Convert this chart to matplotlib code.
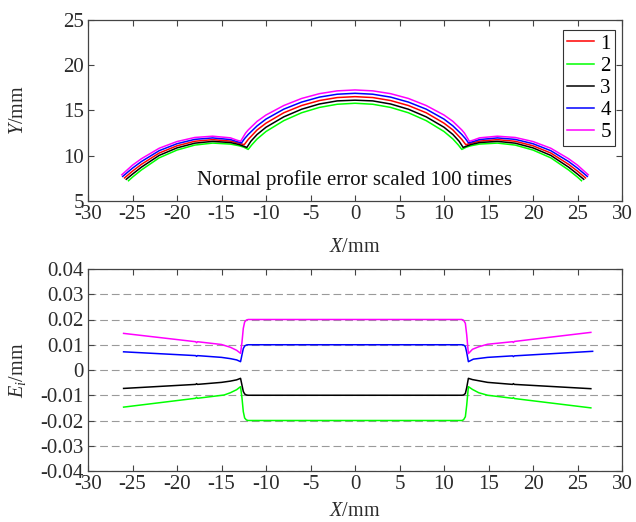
import matplotlib
matplotlib.use('Agg')
import matplotlib.pyplot as plt

plt.rcParams['font.family'] = ['Liberation Serif', 'DejaVu Serif']
plt.rcParams['mathtext.fontset'] = 'custom'
plt.rcParams['mathtext.rm'] = 'Liberation Serif'
plt.rcParams['mathtext.it'] = 'Liberation Serif:italic'
plt.rcParams['axes.unicode_minus'] = False

# ---- profile curves (error scaled) ----
x1 = [-25.9, -25, -24, -22, -20, -18, -16, -14, -13, -12.45, -12, -11, -10, -8, -6, -4, -2, 0,
      2, 4, 6, 8, 10, 11, 12, 12.45, 13, 14, 16, 18, 20, 22, 24, 25, 25.9]
y1 = [7.55, 8.3, 9.05, 10.3, 11.1, 11.6, 11.78, 11.62, 11.38, 11.22, 11.8, 12.85, 13.6, 14.75, 15.55, 16.1, 16.43, 16.53,
      16.43, 16.1, 15.55, 14.75, 13.6, 12.85, 11.8, 11.22, 11.38, 11.62, 11.78, 11.6, 11.1, 10.3, 9.05, 8.3, 7.55]

x2 = [-25.45, -25, -24, -22, -20, -18, -16, -14, -13, -12.5, -12.0, -11.6, -11, -10, -8, -6, -4, -2, 0,
      2, 4, 6, 8, 10, 11, 11.6, 12.0, 12.5, 13, 14, 16, 18, 20, 22, 24, 25, 25.45]
y2 = [7.24, 7.64, 8.43, 9.77, 10.63, 11.18, 11.4, 11.29, 11.1, 10.95, 10.7, 11.2, 11.85, 12.68, 13.88, 14.75, 15.34, 15.69, 15.8,
      15.69, 15.34, 14.75, 13.88, 12.68, 11.85, 11.2, 10.7, 10.95, 11.1, 11.29, 11.4, 11.18, 10.63, 9.77, 8.43, 7.64, 7.24]

x3 = [-25.7, -25, -24, -22, -20, -18, -16, -14, -13, -12.15, -11.7, -11, -10, -8, -6, -4, -2, 0,
      2, 4, 6, 8, 10, 11, 11.7, 12.15, 13, 14, 16, 18, 20, 22, 24, 25, 25.7]
y3 = [7.4, 7.97, 8.74, 10.04, 10.87, 11.39, 11.59, 11.46, 11.23, 10.92, 11.6, 12.35, 13.15, 14.3, 15.14, 15.72, 16.06, 16.14,
      16.06, 15.72, 15.14, 14.3, 13.15, 12.35, 11.6, 10.92, 11.23, 11.46, 11.59, 11.39, 10.87, 10.04, 8.74, 7.97, 7.4]

x4 = [-26.1, -25, -24, -22, -20, -18, -16, -14, -13.2, -12.75, -12.4, -12, -11, -10, -8, -6, -4, -2, 0,
      2, 4, 6, 8, 10, 11, 12, 12.4, 12.75, 13.2, 14, 16, 18, 20, 22, 24, 25, 26.1]
y4 = [7.72, 8.63, 9.36, 10.56, 11.33, 11.81, 11.97, 11.79, 11.54, 11.42, 11.9, 12.35, 13.3, 14.05, 15.15, 15.93, 16.48, 16.8, 16.9,
      16.8, 16.48, 15.93, 15.15, 14.05, 13.3, 12.35, 11.9, 11.42, 11.54, 11.79, 11.97, 11.81, 11.33, 10.56, 9.36, 8.63, 7.72]

x5 = [-26.2, -25, -24, -22, -20, -18, -16, -14, -13.3, -12.85, -12.3, -12, -11, -10, -8, -6, -4, -2, 0,
      2, 4, 6, 8, 10, 11, 12, 12.3, 12.85, 13.3, 14, 16, 18, 20, 22, 24, 25, 26.2]
y5 = [7.9, 8.96, 9.67, 10.83, 11.57, 12.02, 12.16, 11.98, 11.73, 11.6, 12.5, 12.85, 13.8, 14.5, 15.55, 16.33, 16.86, 17.17, 17.27,
      17.17, 16.86, 16.33, 15.55, 14.5, 13.8, 12.85, 12.5, 11.6, 11.73, 11.98, 12.16, 12.02, 11.57, 10.83, 9.67, 8.96, 7.9]

# ---- normal profile error E_i ----
ex2 = [-26.0, -17.9, -17.8, -17.7, -14.7, -14.0, -13.3, -12.86, -12.7, -12.55, -12.4, -12.2, -12.0,
       12.0, 12.2, 12.4, 12.55, 12.74, 13.2, 13.9, 14.9, 17.7, 17.8, 17.9, 26.5]
e2 = [-0.0147, -0.0112, -0.0108, -0.0112, -0.0099, -0.0090, -0.0078, -0.0066, -0.0110, -0.0165, -0.0190, -0.0198, -0.0200,
      -0.0200, -0.0197, -0.0185, -0.0140, -0.0066, -0.0077, -0.0090, -0.0100, -0.0112, -0.0109, -0.0113, -0.0150]

ex3 = [-26.0, -17.9, -17.8, -17.7, -15.0, -14.0, -13.3, -12.86, -12.7, -12.55, -12.4, -12.2, -12.0,
       12.0, 12.2, 12.4, 12.55, 12.74, 13.2, 14.9, 17.7, 17.8, 17.9, 26.5]
e3 = [-0.0073, -0.0057, -0.0054, -0.0057, -0.0049, -0.0044, -0.0039, -0.0033, -0.0060, -0.0085, -0.0095, -0.0099, -0.0100,
      -0.0100, -0.0099, -0.0093, -0.0070, -0.0033, -0.0038, -0.0049, -0.0057, -0.0054, -0.0057, -0.0074]

ex4 = [-26.0, -17.9, -17.8, -17.7, -15.0, -14.0, -13.3, -12.86, -12.7, -12.55, -12.4, -12.2, -12.0,
       12.0, 12.2, 12.4, 12.55, 12.74, 13.3, 14.9, 17.7, 17.8, 17.9, 26.7]
e4 = [0.0072, 0.0057, 0.0054, 0.0057, 0.0050, 0.0045, 0.0040, 0.0033, 0.0060, 0.0085, 0.0095, 0.0099, 0.0100,
      0.0100, 0.0099, 0.0093, 0.0070, 0.0033, 0.0043, 0.0050, 0.0056, 0.0053, 0.0056, 0.0074]

ex5 = [-26.0, -17.9, -17.8, -17.7, -15.0, -14.0, -13.3, -12.86, -12.7, -12.55, -12.4, -12.2, -12.0,
       12.0, 12.2, 12.4, 12.55, 12.74, 13.2, 13.9, 14.9, 17.7, 17.8, 17.9, 26.5]
e5 = [0.0145, 0.0112, 0.0108, 0.0112, 0.0101, 0.0090, 0.0078, 0.0066, 0.0110, 0.0165, 0.0190, 0.0198, 0.0200,
      0.0200, 0.0197, 0.0185, 0.0140, 0.0065, 0.0082, 0.0092, 0.0102, 0.0112, 0.0109, 0.0113, 0.0149]

names = ['1', '2', '3', '4', '5']
colors = ['#ff0000', '#00ff00', '#000000', '#0000ff', '#ff00ff']

xticks = [-30, -25, -20, -15, -10, -5, 0, 5, 10, 15, 20, 25, 30]
xtick_labels = ['-30', '-25', '-20', '-15', '-10', '-5', '0', '5', '10', '15', '20', '25', '30']
yticks1 = [5, 10, 15, 20, 25]
yticks2 = [-0.04, -0.03, -0.02, -0.01, 0, 0.01, 0.02, 0.03, 0.04]
ytick2_labels = ['-0.04', '-0.03', '-0.02', '-0.01', '0', '0.01', '0.02', '0.03', '0.04']

spine_c = '#444444'
text_c = '#2b2b2b'
fs = 15

fig = plt.figure(figsize=(6.36, 5.22), dpi=100)
ax1 = fig.add_axes([88 / 636, 1 - 201 / 522, 534 / 636, 181 / 522])
ax2 = fig.add_axes([88 / 636, 1 - 471 / 522, 534 / 636, 202 / 522])

lw = 1.1
for xs, ys, c, n in zip([x1, x2, x3, x4, x5], [y1, y2, y3, y4, y5], colors, names):
    ax1.plot(xs, ys, color=c, lw=lw, label=n)

for xs, es, c in zip([ex2, ex3, ex4, ex5], [e2, e3, e4, e5], colors[1:]):
    ax2.plot(xs, es, color=c, lw=lw)

ax1.text(0, 7.3, 'Normal profile error scaled 100 times', ha='center', va='center',
         fontsize=fs, color='#111111')

leg = ax1.legend(loc='upper right', bbox_to_anchor=(527 / 534, 171 / 181), fontsize=fs,
                 handlelength=1.28, handletextpad=0.3, labelspacing=0.12, borderpad=0.2,
                 borderaxespad=0, fancybox=False, framealpha=1, edgecolor='#333333')
leg.get_frame().set_linewidth(0.8)

for ax in (ax1, ax2):
    ax.set_xlim(-30, 30)
    ax.set_xticks(xticks)
    ax.set_xticklabels(xtick_labels)
    ax.tick_params(direction='in', top=True, right=True, length=4, width=0.8,
                   color=spine_c, labelcolor=text_c, labelsize=fs, pad=3)
    for s in ax.spines.values():
        s.set_color(spine_c)
        s.set_linewidth(0.9)
    ax.set_xlabel(r'$X$/mm', fontsize=14.5, color=text_c)

ax1.set_ylim(5, 25)
ax1.set_yticks(yticks1)
ax1.set_ylabel(r'$Y$/mm', fontsize=14.5, color=text_c)
ax1.xaxis.set_label_coords(0.5, -37 / 181)
ax1.yaxis.set_label_coords(-60 / 534, 0.5)

ax2.set_ylim(-0.04, 0.04)
ax2.set_yticks(yticks2)
ax2.set_yticklabels(ytick2_labels)
ax2.set_ylabel(r'$E_i$/mm', fontsize=14.5, color=text_c)
ax2.xaxis.set_label_coords(0.5, -31 / 202)
ax2.yaxis.set_label_coords(-60 / 534, 0.5)
ax2.yaxis.grid(True, linestyle=(0, (7, 3.5)), color='#9a9a9a', lw=0.8)
ax2.set_axisbelow(True)

fig.savefig('out.png', dpi=100)
